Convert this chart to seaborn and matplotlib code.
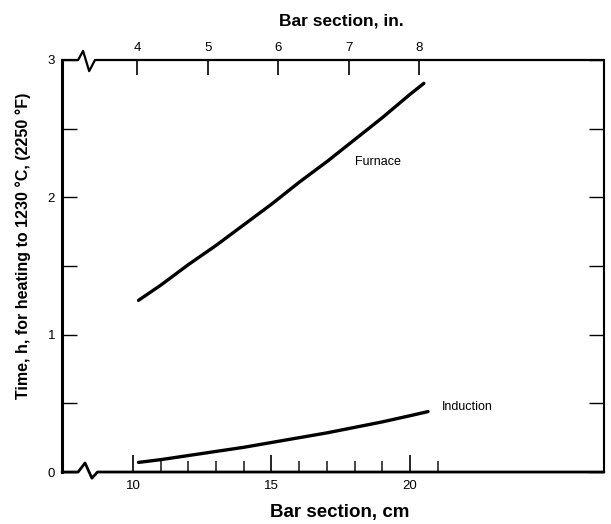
import matplotlib
matplotlib.use("Agg")
import matplotlib.pyplot as plt
import matplotlib.transforms as mtransforms
from matplotlib.ticker import FixedLocator
import seaborn as sns

# Curve values (bar section in cm, time in h)
furnace_cm = [10.2, 11, 12, 13, 14, 15, 16, 17, 18, 19, 20, 20.5]
furnace_h = [1.25, 1.36, 1.51, 1.65, 1.80, 1.95, 2.11, 2.26, 2.42, 2.58, 2.75, 2.83]
induction_cm = [10.2, 11, 12, 13, 14, 15, 16, 17, 18, 19, 20, 20.65]
induction_h = [0.07, 0.09, 0.12, 0.15, 0.18, 0.215, 0.25, 0.285, 0.325, 0.365, 0.41, 0.44]

# Tick positions
cm_major = [10, 15, 20]
cm_minor = [11, 12, 13, 14, 16, 17, 18, 19, 21]
in_ticks = [4, 5, 6, 7, 8]
h_major = [0, 1, 2, 3]
h_minor = [0.5, 1.5, 2.5]

sns.set_theme(style="ticks")
plt.rcParams["font.family"] = ["Liberation Sans", "DejaVu Sans"]
plt.rcParams["text.color"] = "black"
plt.rcParams["axes.labelcolor"] = "black"

fig = plt.figure(figsize=(6.11, 5.24), dpi=100)
ax = fig.add_axes([0.1015, 0.0992, 0.887, 0.7863])

sns.lineplot(x=furnace_cm, y=furnace_h, ax=ax, color="black", lw=2.4)
sns.lineplot(x=induction_cm, y=induction_h, ax=ax, color="black", lw=2.4)

ax.text(18.0, 2.26, "Furnace", fontsize=9, va="center", ha="left", color="black")
ax.text(21.15, 0.47, "Induction", fontsize=9, va="center", ha="left", color="black")

ax.set_xlim(7.44, 27.0)
ax.set_ylim(0, 3)

# axes ticks
ax.xaxis.set_major_locator(FixedLocator(cm_major))
ax.xaxis.set_minor_locator(FixedLocator(cm_minor))
ax.yaxis.set_major_locator(FixedLocator(h_major))
ax.yaxis.set_minor_locator(FixedLocator(h_minor))
ax.tick_params(axis="x", which="major", direction="in", length=12, width=1.2,
               labelsize=9.5, pad=6, colors="black")
ax.tick_params(axis="x", which="minor", direction="in", length=8, width=1.2)
ax.tick_params(axis="y", which="both", direction="in", length=11, width=1.0,
               labelsize=9.5, pad=5, right=True, colors="black")

# spines: left/right kept, top/bottom drawn by hand with break marks
ax.spines["left"].set_linewidth(2.2)
ax.spines["right"].set_linewidth(1.5)
ax.spines["top"].set_visible(False)
ax.spines["bottom"].set_visible(False)
for s in ["left", "right"]:
    ax.spines[s].set_color("black")

trans = mtransforms.blended_transform_factory(ax.transData, ax.transAxes)
ax.plot([7.44, 8.02, 8.20, 8.42, 8.63, 27.0], [1, 1, 1.022, 0.973, 1, 1],
        color="black", lw=1.6, transform=trans, clip_on=False)
ax.plot([7.44, 8.02, 8.27, 8.52, 8.72, 27.0], [0, 0, 0.022, -0.015, 0, 0],
        color="black", lw=2.0, transform=trans, clip_on=False)

# top axis in inches
sec = ax.secondary_xaxis("top", functions=(lambda x: x / 2.54, lambda x: x * 2.54))
sec.xaxis.set_major_locator(FixedLocator(in_ticks))
sec.tick_params(axis="x", direction="in", length=11, width=1.2, labelsize=9.5,
                pad=4, colors="black")
sec.spines["top"].set_visible(False)

ax.set_ylabel("Time, h, for heating to 1230 °C, (2250 °F)", fontsize=11.5,
              fontweight="bold", color="black")
ax.yaxis.set_label_coords(-0.058, 0.549)
fig.text(340 / 611, 1 - 513 / 524, "Bar section, cm", fontsize=13.5,
         fontweight="bold", ha="center", va="center", color="black")
fig.text(341 / 611, 1 - 21 / 524, "Bar section, in.", fontsize=12.5,
         fontweight="bold", ha="center", va="center", color="black")

fig.savefig("out.png", dpi=100, facecolor="white")
